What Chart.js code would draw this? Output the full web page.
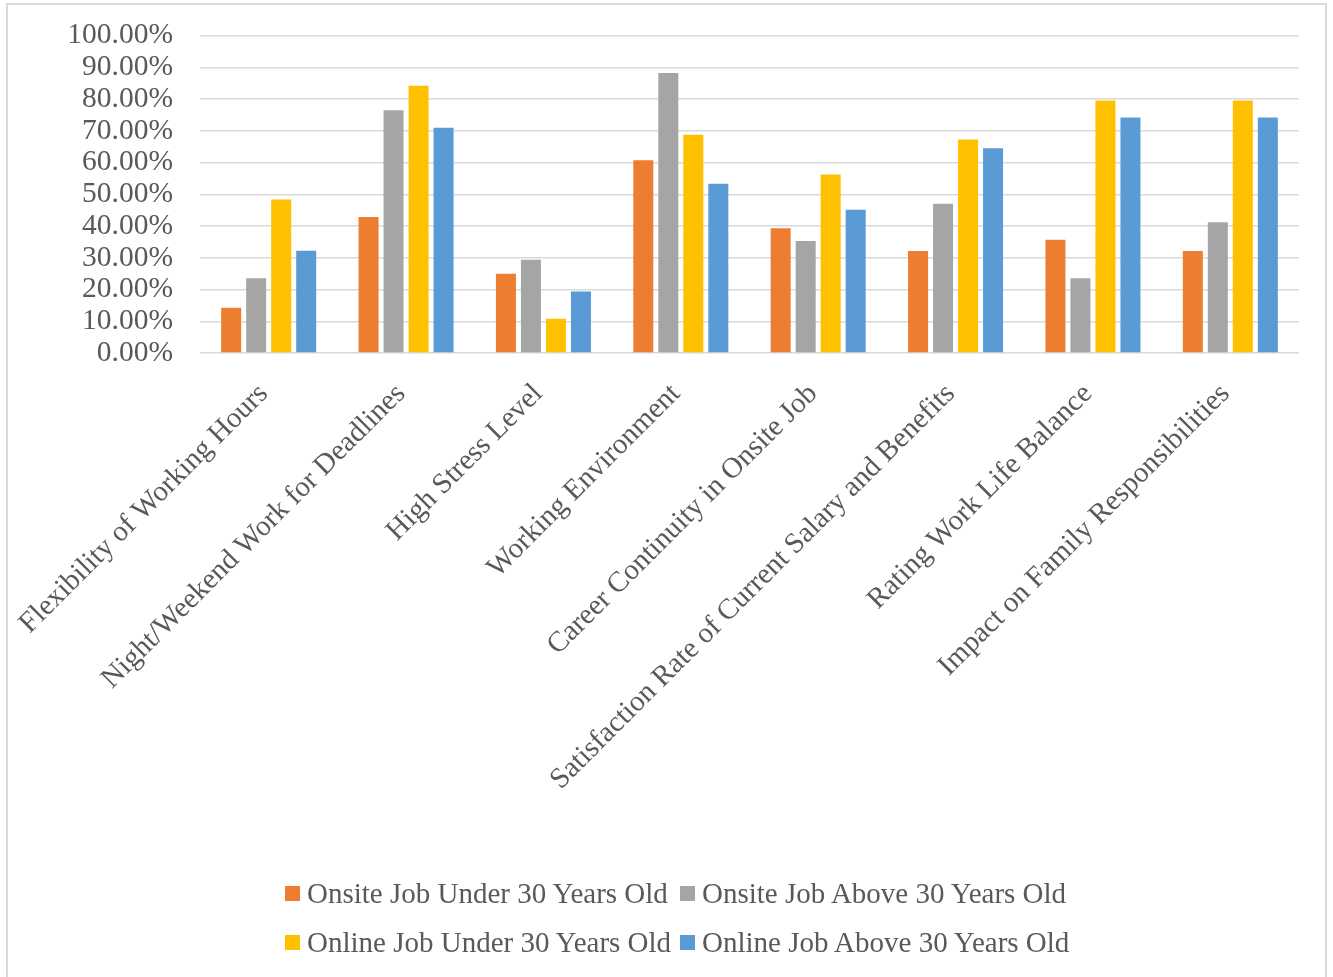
<!DOCTYPE html>
<html>
<head>
<meta charset="utf-8">
<script src="https://cdn.jsdelivr.net/npm/chart.js@4.4.1/dist/chart.umd.min.js"></script>
<style>
  body { margin: 0; background: #fff; font-family: "Liberation Serif", serif; overflow: hidden; }
  #frame {
    position: absolute; left: 6px; top: 3px; width: 1321px; height: 990px;
    border: 2px solid #d9d9d9; box-sizing: border-box;
  }
  #chart { position: absolute; left: 0; top: -9px; }
  #legend { position: absolute; left: 285px; top: 869px; }
  #legend .grid {
    display: grid; grid-template-columns: 395px auto;
    grid-auto-rows: 49px;
  }
  #legend .item { display: flex; align-items: center; font-size: 29px; color: #595959; white-space: nowrap; }
  #legend .box { width: 15px; height: 15px; margin-right: 7px; flex: none; }
</style>
</head>
<body>
<div id="frame"></div>
<canvas id="chart" width="1333" height="986"></canvas>
<div id="legend"><div class="grid"></div></div>
<script>
const categories = [
  'Flexibility of Working Hours',
  'Night/Weekend Work for Deadlines',
  'High Stress Level',
  'Working Environment',
  'Career Continuity in Onsite Job',
  'Satisfaction Rate of Current Salary and Benefits',
  'Rating Work Life Balance',
  'Impact on Family Responsibilities'
];

const seriesNames = [
  'Onsite Job Under 30 Years Old',
  'Onsite Job Above 30 Years Old',
  'Online Job Under 30 Years Old',
  'Online Job Above 30 Years Old'
];

// percentages per category
const onsiteUnder30 = [14.29, 42.86, 25.00, 60.71, 39.29, 32.14, 35.71, 32.14];
const onsiteAbove30 = [23.53, 76.47, 29.41, 88.24, 35.29, 47.06, 23.53, 41.18];
const onlineUnder30 = [48.39, 84.21, 10.81, 68.75, 56.25, 67.27, 79.59, 79.59];
const onlineAbove30 = [32.26, 70.97, 19.35, 53.33, 45.16, 64.52, 74.19, 74.19];

const yTicks = { min: 0, max: 100, step: 10 };

const colors = ['#ED7D31', '#A5A5A5', '#FFC000', '#5B9BD5'];
const textColor = '#595959';
const fontFamily = '"Liberation Serif", serif';

const seriesValues = [onsiteUnder30, onsiteAbove30, onlineUnder30, onlineAbove30];

const datasets = seriesNames.map((name, i) => ({
  label: name,
  data: seriesValues[i],
  backgroundColor: colors[i],
  borderWidth: 0,
  categoryPercentage: 0.728,
  barPercentage: 0.8
}));

new Chart(document.getElementById('chart'), {
  type: 'bar',
  data: { labels: categories, datasets: datasets },
  options: {
    responsive: false,
    animation: false,
    layout: { padding: { top: 25, right: 34, left: 0, bottom: 0 } },
    plugins: {
      legend: { display: false },
      tooltip: { enabled: false }
    },
    scales: {
      x: {
        grid: { display: false },
        border: { display: false },
        ticks: {
          color: textColor,
          font: { family: fontFamily, size: 29 },
          minRotation: 45,
          maxRotation: 45,
          autoSkip: false,
          padding: 16,
          labelOffset: -5
        },
        afterFit: (axis) => { axis.height = 624; }
      },
      y: {
        min: yTicks.min,
        max: yTicks.max,
        grid: { color: '#d9d9d9', lineWidth: 1.5, drawTicks: false },
        border: { display: false },
        ticks: {
          stepSize: yTicks.step,
          autoSkip: false,
          color: textColor,
          font: { family: fontFamily, size: 29.5 },
          padding: 27,
          callback: (v) => v.toFixed(2) + '%'
        },
        afterFit: (axis) => { axis.width = 200; }
      }
    }
  }
});

// legend laid out in two rows of two
const grid = document.querySelector('#legend .grid');
seriesNames.forEach((name, i) => {
  const item = document.createElement('div');
  item.className = 'item';
  item.innerHTML = '<span class="box" style="background:' + colors[i] + '"></span>' + name;
  grid.appendChild(item);
});
</script>
</body>
</html>
